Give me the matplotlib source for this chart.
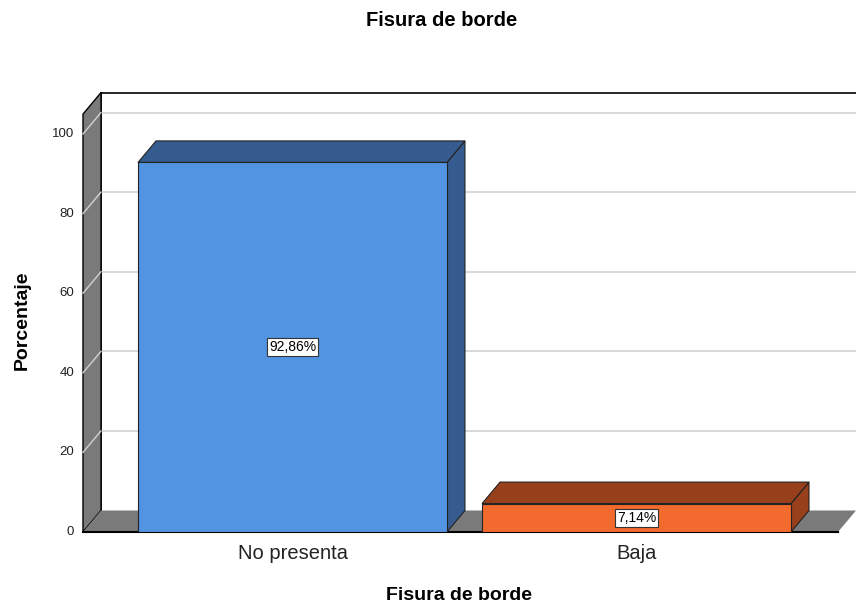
import matplotlib.pyplot as plt
from matplotlib.patches import Polygon

categories = ["No presenta", "Baja"]
percentages = [92.86, 7.14]
value_labels = ["92,86%", "7,14%"]
yticks = [0, 20, 40, 60, 80, 100]

front_colors = ["#5294e2", "#f26a2e"]
shade_colors = ["#365c8f", "#983f1b"]

W, H, DPI = 856, 607, 100
fig = plt.figure(figsize=(W / DPI, H / DPI), dpi=DPI)
plt.rcParams['font.family'] = ['Liberation Sans', 'DejaVu Sans']

# axes box in pixels: front plane from x=83 to the right edge, value 0 at y=532
left_px, right_px, bottom_px, top_px = 83, 856, 532, 80
ax = fig.add_axes([left_px / W, (H - bottom_px) / H,
                   (right_px - left_px) / W, (bottom_px - top_px) / H])
xmin, xmax = -0.609, 1.638
ymax = (bottom_px - top_px) / 3.98
ax.set_xlim(xmin, xmax)
ax.set_ylim(0, ymax)
ax.axis("off")

# depth of the pseudo-3d effect, in data units
px_x = (right_px - left_px) / (xmax - xmin)
px_y = (bottom_px - top_px) / ymax
dx = 18 / px_x
dy = 21.5 / px_y
wall_top = 105

grid_c = "#d2d2d2"
wall_c = "#7a7a7a"

# back wall
ax.add_patch(Polygon([(xmin + dx, dy), (xmax, dy), (xmax, wall_top + dy), (xmin + dx, wall_top + dy)],
                     closed=True, facecolor="white", edgecolor="none", zorder=1))
for v in yticks[1:]:
    ax.plot([xmin + dx, xmax], [v + dy, v + dy], color=grid_c, lw=1.2, zorder=2)
ax.plot([xmin + dx, xmax], [wall_top + dy] * 2, color="black", lw=1.2, zorder=3, clip_on=False)
ax.plot([xmin + dx] * 2, [dy, wall_top + dy], color="black", lw=1.2, zorder=3)

# left wall
ax.add_patch(Polygon([(xmin, 0), (xmin, wall_top), (xmin + dx, wall_top + dy), (xmin + dx, dy)],
                     closed=True, facecolor=wall_c, edgecolor="black", lw=1.0, zorder=4, clip_on=False))
for v in yticks[1:]:
    ax.plot([xmin, xmin + dx], [v, v + dy], color=grid_c, lw=1.0, zorder=5, clip_on=False)

# floor
ax.add_patch(Polygon([(xmin, 0), (xmax - dx, 0), (xmax, dy), (xmin + dx, dy)],
                     closed=True, facecolor=wall_c, edgecolor="none", zorder=4, clip_on=False))
ax.plot([xmin, xmax - dx], [0, 0], color="black", lw=1.5, zorder=6, clip_on=False)

# bars: side, top, then front face
bw = 0.898
for i, (val, lab) in enumerate(zip(percentages, value_labels)):
    x0, x1 = i - bw / 2, i + bw / 2
    ec = "#222222"
    ax.add_patch(Polygon([(x1, 0), (x1 + dx, dy), (x1 + dx, val + dy), (x1, val)],
                         closed=True, facecolor=shade_colors[i], edgecolor=ec, lw=0.8, zorder=7))
    ax.add_patch(Polygon([(x0, val), (x0 + dx, val + dy), (x1 + dx, val + dy), (x1, val)],
                         closed=True, facecolor=shade_colors[i], edgecolor=ec, lw=0.8, zorder=7))
    ax.add_patch(Polygon([(x0, 0), (x1, 0), (x1, val), (x0, val)],
                         closed=True, facecolor=front_colors[i], edgecolor=ec, lw=0.8, zorder=8))
    ax.text(i, val / 2, lab, ha="center", va="center", fontsize=10, zorder=9,
            bbox=dict(boxstyle="square,pad=0.15", facecolor="white", edgecolor="#333333", lw=0.8))
    ax.text(i, -5.3, categories[i], ha="center", va="center", fontsize=14.5, color="#222222")

for v in yticks:
    ax.text(xmin - 9 / px_x, v, str(v), ha="right", va="center", fontsize=9.5, color="#222222")

fig.text(442 / W, 1 - 20 / H, "Fisura de borde", ha="center", va="center", fontsize=14.5, fontweight="bold")
fig.text(459 / W, 1 - 595 / H, "Fisura de borde", ha="center", va="center", fontsize=14, fontweight="bold")
fig.text(22 / W, 1 - 320 / H, "Porcentaje", ha="center", va="center", fontsize=14,
         fontweight="bold", rotation=90)

fig.savefig("out.png", dpi=DPI)
